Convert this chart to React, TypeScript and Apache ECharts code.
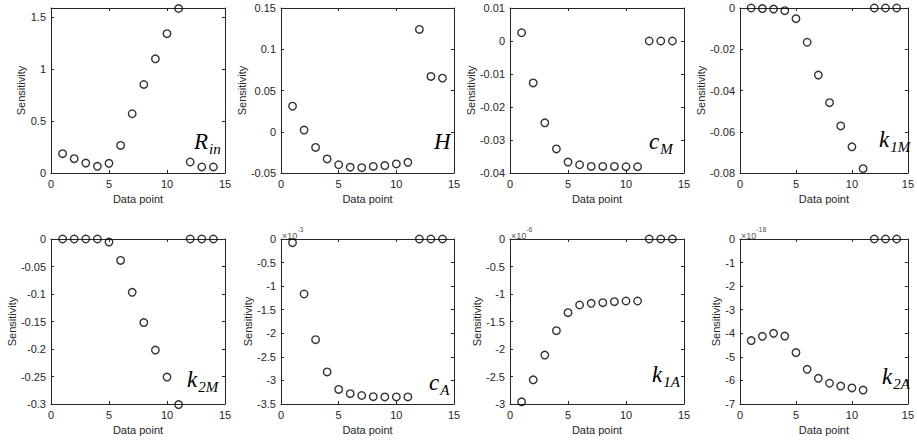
import React, { useEffect, useRef } from "react";
import * as echarts from "echarts";

// x values (data point index)
const dataPoints = [1, 2, 3, 4, 5, 6, 7, 8, 9, 10, 11, 12, 13, 14];

// Sensitivity values per parameter (as shown on each axis; exponents below)
const rIn = [0.186, 0.138, 0.096, 0.064, 0.093, 0.266, 0.571, 0.853, 1.1, 1.343, 1.585, 0.106, 0.058, 0.058];
const hVals = [0.031, 0.002, -0.019, -0.033, -0.04, -0.043, -0.0435, -0.042, -0.041, -0.039, -0.037, 0.124, 0.067, 0.065];
const cM = [0.0025, -0.0127, -0.0248, -0.0327, -0.0367, -0.0375, -0.038, -0.038, -0.038, -0.0381, -0.0381, 0, 0, 0];
const k1M = [0, -0.0003, -0.0005, -0.0013, -0.0052, -0.0166, -0.0325, -0.0459, -0.0572, -0.0673, -0.0779, 0, 0, 0];
const k2M = [0, 0, 0, 0, -0.0055, -0.039, -0.097, -0.152, -0.202, -0.251, -0.301, 0, 0, 0];
const cA = [-0.078, -1.167, -2.136, -2.82, -3.19, -3.28, -3.32, -3.345, -3.35, -3.35, -3.35, 0, 0, 0]; // x1e-3
const k1A = [-2.96, -2.56, -2.11, -1.667, -1.34, -1.2, -1.17, -1.158, -1.14, -1.127, -1.127, 0, 0, 0]; // x1e-6
const k2A = [-4.31, -4.13, -4.0, -4.12, -4.82, -5.53, -5.91, -6.12, -6.24, -6.32, -6.41, 0, 0, 0]; // x1e-18

// Axis ranges and tick intervals
const yMins = [0, -0.05, -0.04, -0.08, -0.3, -3.5, -3, -7];
const yMaxs = [1.59, 0.15, 0.01, 0, 0, 0, 0, 0];
const yIntervals = [0.5, 0.05, 0.01, 0.02, 0.05, 0.5, 0.5, 1];
const xTicks = [0, 5, 10, 15];
const exponents = ["", "", "", "", "", "-3", "-6", "-18"];
const paramMain = ["R", "H", "c", "k", "k", "c", "k", "k"];
const paramSub = ["in", "", "M", "1M", "2M", "A", "1A", "2A"];
const seriesList = [rIn, hVals, cM, k1M, k2M, cA, k1A, k2A];

// Layout (positions only)
const colLeft = [51, 281, 510, 740];
const colWidth = [174, 173, 174, 174];
const rowTop = [8, 239];
const plotH = 165;
const nameGaps = [22, 32, 31, 31, 32, 25, 26, 17];
const labelPos = [
  [194, 130],
  [434, 130],
  [649, 130],
  [879, 128],
  [187, 368],
  [429, 371],
  [652, 363],
  [882, 365],
];

const INK = "#262626";
const FONT = "'Liberation Sans', Arial, Helvetica, sans-serif";

export default function App() {
  const ref = useRef<HTMLDivElement>(null);

  useEffect(() => {
    if (!ref.current) return;
    const chart = echarts.init(ref.current, undefined, { renderer: "svg" });

    const grids: any[] = [];
    const xAxes: any[] = [];
    const yAxes: any[] = [];
    const series: any[] = [];
    const graphics: any[] = [];

    seriesList.forEach((vals, i) => {
      const r = Math.floor(i / 4);
      const c = i % 4;
      grids.push({
        left: colLeft[c],
        top: rowTop[r],
        width: colWidth[c],
        height: plotH,
        containLabel: false,
      });
      const baseX = {
        type: "value",
        gridIndex: i,
        min: xTicks[0],
        max: xTicks[xTicks.length - 1],
        interval: 5,
        splitLine: { show: false },
        axisLine: { show: true, onZero: false, lineStyle: { color: INK, width: 1 } },
        axisTick: { show: true, inside: true, length: 3, lineStyle: { color: INK } },
      };
      xAxes.push({
        ...baseX,
        position: "bottom",
        name: "Data point",
        nameLocation: "middle",
        nameGap: 20,
        nameTextStyle: { color: INK, fontSize: 11, fontFamily: FONT },
        axisLabel: { color: INK, fontSize: 11, fontFamily: FONT, margin: 5 },
      });
      xAxes.push({ ...baseX, position: "top", axisLabel: { show: false } });

      const baseY = {
        type: "value",
        gridIndex: i,
        min: yMins[i],
        max: yMaxs[i],
        interval: yIntervals[i],
        splitLine: { show: false },
        axisLine: { show: true, onZero: false, lineStyle: { color: INK, width: 1 } },
        axisTick: { show: true, inside: true, length: 3, lineStyle: { color: INK } },
      };
      yAxes.push({
        ...baseY,
        position: "left",
        name: "Sensitivity",
        nameLocation: "middle",
        nameGap: nameGaps[i],
        nameTextStyle: { color: INK, fontSize: 11, fontFamily: FONT },
        axisLabel: {
          color: INK,
          fontSize: 11,
          fontFamily: FONT,
          margin: 5,
          showMaxLabel: i === 0 ? false : true,
        },
      });
      yAxes.push({ ...baseY, position: "right", axisLabel: { show: false } });

      series.push({
        type: "scatter",
        xAxisIndex: 2 * i,
        yAxisIndex: 2 * i,
        clip: false,
        symbol: "circle",
        symbolSize: 7.5,
        itemStyle: { color: "rgba(0,0,0,0)", borderColor: "#000", borderWidth: 1.4 },
        data: dataPoints.map((x, k) => [x, vals[k]]),
      });

      if (exponents[i]) {
        graphics.push({
          type: "text",
          x: colLeft[c] + 1,
          y: rowTop[r] - 13,
          style: {
            text: "{a|×10}{b|" + exponents[i] + "}",
            rich: {
              a: { fontSize: 9, fontFamily: FONT, fill: "#555", lineHeight: 12, verticalAlign: "bottom" },
              b: { fontSize: 7, fontFamily: FONT, fill: "#555", lineHeight: 14, verticalAlign: "top" },
            },
          },
        });
      }

      graphics.push({
        type: "text",
        x: labelPos[i][0],
        y: labelPos[i][1],
        z: 100,
        style: {
          text: "{m|" + paramMain[i] + "}" + (paramSub[i] ? "{s|" + paramSub[i] + "}" : ""),
          rich: {
            m: {
              fontSize: 23,
              fontStyle: "italic",
              fontFamily: "'Liberation Serif', 'DejaVu Serif', serif",
              fill: "#000",
              lineHeight: 26,
              verticalAlign: "top",
            },
            s: {
              fontSize: 15,
              fontStyle: "italic",
              fontFamily: "'Liberation Serif', 'DejaVu Serif', serif",
              fill: "#000",
              lineHeight: 15,
              verticalAlign: "bottom",
              padding: [0, 0, 0, 1],
            },
          },
        },
      });
    });

    chart.setOption({
      animation: false,
      backgroundColor: "#fff",
      grid: grids,
      xAxis: xAxes,
      yAxis: yAxes,
      series,
      graphic: graphics,
    });

    return () => chart.dispose();
  }, []);

  return (
    <div
      ref={ref}
      style={{ position: "absolute", left: 0, top: 0, width: 917, height: 443, background: "#fff" }}
    />
  );
}
